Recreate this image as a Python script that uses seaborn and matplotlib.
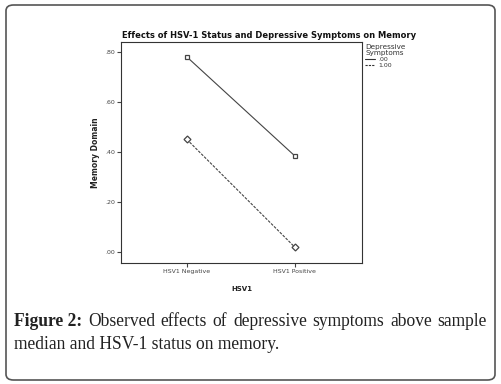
import numpy as np
import pandas as pd
import seaborn as sns
import matplotlib.pyplot as plt
from matplotlib.patches import FancyBboxPatch
from matplotlib.lines import Line2D

# data
hsv1_status = ["HSV1 Negative", "HSV1 Positive"]
dep_groups = [".00", "1.00"]
memory_low_dep = [0.782, 0.385]
memory_high_dep = [0.452, 0.020]

df = pd.DataFrame({
    "HSV1": hsv1_status * 2,
    "Depressive Symptoms": [dep_groups[0]] * 2 + [dep_groups[1]] * 2,
    "Memory Domain": memory_low_dep + memory_high_dep,
})

sns.set_style("white")
plt.rcParams["font.family"] = ["DejaVu Sans"]

W, H = 501, 384
fig = plt.figure(figsize=(W / 100, H / 100), dpi=100)

# rounded frame around the whole figure
frame = FancyBboxPatch((6 / W, 4 / H), 489 / W, 375 / H,
                       boxstyle="round,pad=0,rounding_size=0.015",
                       transform=fig.transFigure, fill=False,
                       edgecolor="#555555", linewidth=1.2)
fig.patches.append(frame)

ax = fig.add_axes([121 / W, 1 - 263 / H, 241 / W, 221 / H])

line_col = "#444444"
sns.pointplot(data=df, x="HSV1", y="Memory Domain", hue="Depressive Symptoms",
              palette=[line_col, line_col], markers=["s", "D"],
              linestyles=["-", (0, (2.5, 1.2))], markersize=3.5,
              markerfacecolor="white", markeredgewidth=0.9,
              linewidth=0.8, errorbar=None, legend=False, ax=ax)

ax.set_ylim(-0.043, 0.841)
ax.set_xlim(-0.607, 1.62)
ax.set_yticks([0, 0.2, 0.4, 0.6, 0.8])
ax.set_yticklabels([".00", ".20", ".40", ".60", ".80"])
ax.tick_params(axis="both", direction="out", length=3, width=0.8,
               labelsize=4.5, colors="#444444", pad=1, left=True, bottom=True)
for s in ax.spines.values():
    s.set_color("#333333")
    s.set_linewidth(0.8)

ax.set_xlabel("HSV1", fontsize=5, fontweight="bold", labelpad=9,
              color="#222222")
ax.set_ylabel("Memory Domain", fontsize=5.5, fontweight="bold", labelpad=4,
              color="#222222")
# title is centred over plot + legend in the reference
fig.text(269 / W, 1 - 35 / H,
         "Effects of HSV-1 Status and Depressive Symptoms on Memory",
         fontsize=6, fontweight="bold", color="#111111",
         ha="center", va="center")

# legend
leg_handles = [Line2D([], [], color="#333333", lw=0.8, ls="-"),
               Line2D([], [], color="#333333", lw=0.8, ls=(0, (2, 1)))]
leg = fig.legend(leg_handles, dep_groups, title="Depressive\nSymptoms",
                 loc="upper left", bbox_to_anchor=(361 / W, 1 - 40 / H),
                 frameon=False, fontsize=4.5, title_fontsize=5.2,
                 handlelength=1.6, handletextpad=0.4, labelspacing=0.1,
                 borderpad=0.2)
leg._legend_box.align = "left"
leg.get_title().set_linespacing(0.95)
for t in leg.get_texts():
    t.set_color("#333333")
leg.get_title().set_color("#333333")

# caption, justified first line
cap_font = dict(family="Liberation Serif", fontsize=12.5, color="#222222")
line1 = ["Figure 2:", "Observed", "effects", "of", "depressive", "symptoms",
         "above", "sample"]
line2 = "median and HSV-1 status on memory."
x0, x1 = 14 / W, 487 / W
y1, y2 = 1 - 326 / H, 1 - 349 / H
fig.canvas.draw()
renderer = fig.canvas.get_renderer()

# size the caption so the second line matches the reference width (~267 px)
probe = fig.text(0, 0, line2, **cap_font)
pw = probe.get_window_extent(renderer).width
cap_font["fontsize"] *= 267 / pw
probe.remove()

texts = []
for w in line1:
    kw = dict(cap_font)
    if w.startswith("Figure"):
        kw["fontweight"] = "bold"
    t = fig.text(0, y1, w, va="baseline", ha="left", **kw)
    texts.append(t)
widths = [t.get_window_extent(renderer).width / W for t in texts]
gap = (x1 - x0 - sum(widths)) / (len(texts) - 1)
x = x0
for t, w in zip(texts, widths):
    t.set_x(x)
    x += w + gap
fig.text(x0, y2, line2, va="baseline", ha="left", **cap_font)

fig.savefig("out.png", dpi=100)
